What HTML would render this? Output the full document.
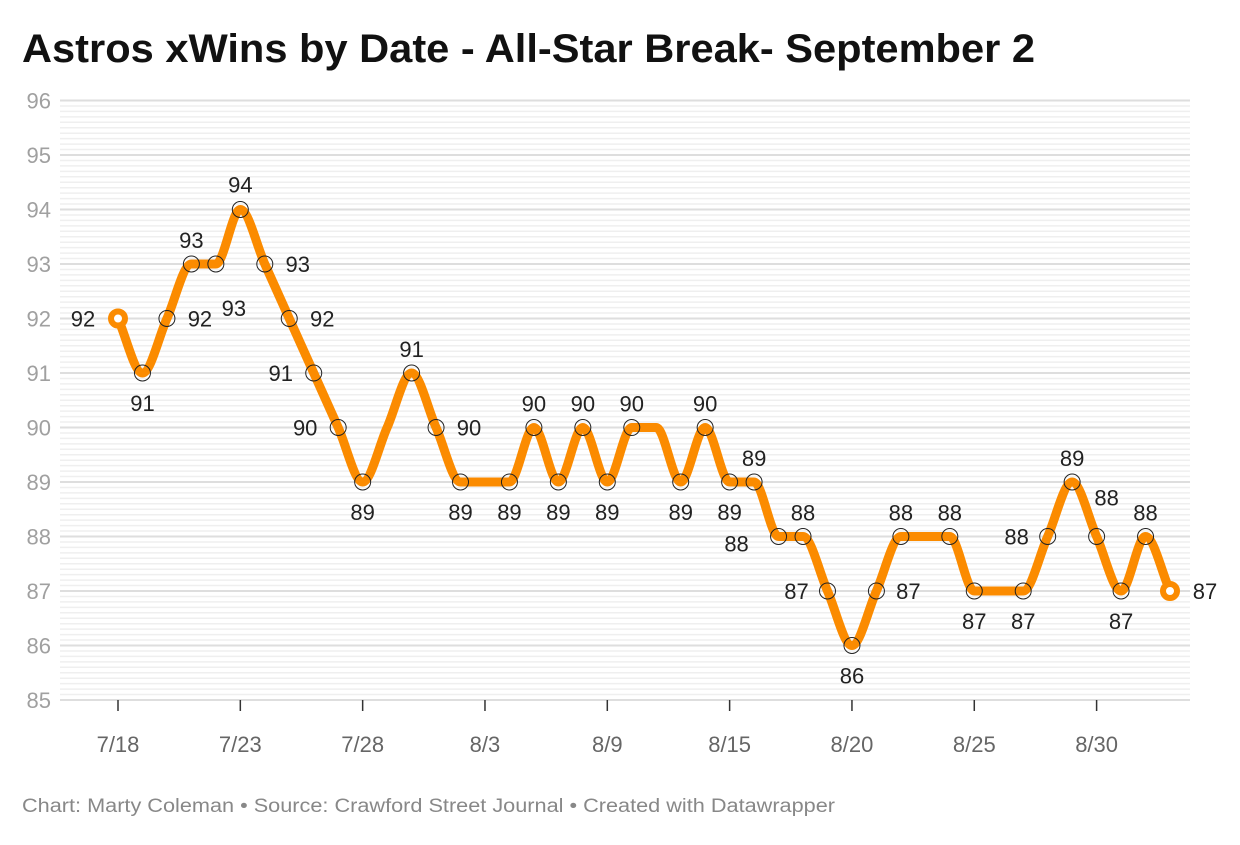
<!DOCTYPE html>
<html><head><meta charset="utf-8"><style>
body{margin:0;background:#fff;font-family:"Liberation Sans",sans-serif;}
svg text{font-family:"Liberation Sans",sans-serif;}
</style></head><body>
<svg id="c" width="1240" height="840">
<text x="22" y="62" font-size="40" font-weight="bold" fill="#111" textLength="1013" lengthAdjust="spacingAndGlyphs">Astros xWins by Date - All-Star Break- September 2</text>
<g id="grid"></g><g id="ax"></g><g id="ln"></g><g id="mk"></g>
<text x="22" y="812" font-size="19" fill="#888" textLength="813" lengthAdjust="spacingAndGlyphs">Chart: Marty Coleman • Source: Crawford Street Journal • Created with Datawrapper</text>
</svg>
<script>
const values=[92,91,92,93,93,94,93,92,91,90,89,90,91,90,89,89,89,90,89,90,89,90,90,89,90,89,89,88,88,87,86,87,88,88,88,87,87,87,88,89,88,87,88,87];
const tickIndex=[0,5,10,15,20,25,30,35,40];
const tickLabels=["7/18","7/23","7/28","8/3","8/9","8/15","8/20","8/25","8/30"];
const yTicks=[85,86,87,88,89,90,91,92,93,94,95,96];
const lab=[[-35,0],[0,30],[33,0],[0,-24],[18,44],[0,-25],[33,0],[33,0],[-33,0],[-33,0],[0,30],null,[0,-24],[33,0],[0,30],null,[0,30],[0,-24],[0,30],[0,-24],[0,30],[0,-24],null,[0,30],[0,-24],[0,30],[0,-24],[-42,7],[0,-24],[-31,0],[0,30],[32,0],[0,-24],null,[0,-24],[0,30],null,[0,30],[-31,0],[0,-24],[10,-39],[0,30],[0,-24],[35,0]];
const NS="http://www.w3.org/2000/svg";
const x=i=>118+i*(1170-118)/43;
const y=v=>700-(v-85)*54.5;
function mk(t,a,p){const e=document.createElementNS(NS,t);for(const k in a)e.setAttribute(k,a[k]);p.appendChild(e);return e;}
const grid=document.getElementById('grid'),ax=document.getElementById('ax'),ln=document.getElementById('ln'),mg=document.getElementById('mk');
for(let k=0;k<=110;k++){const v=85+k/10;if(k%10===0)continue;const l=mk('line',{x1:60,x2:1190,y1:y(v),y2:y(v),stroke:'#efefef','stroke-width':1.5},grid);

}
yTicks.forEach(v=>{const l=mk('line',{x1:60,x2:1190,y1:y(v),y2:y(v),stroke:'#dedede','stroke-width':2},grid);


const t=mk('text',{x:51,y:y(v)+8,'text-anchor':'end','font-size':22,fill:'#a0a0a0'},ax);t.textContent=v;

});
tickIndex.forEach((ix,j)=>{const l=mk('line',{x1:x(ix),x2:x(ix),y1:700,y2:711,stroke:'#333','stroke-width':1.5},ax);


const t=mk('text',{x:x(ix),y:752,'text-anchor':'middle','font-size':22,fill:'#666'},ax);t.textContent=tickLabels[j];

});
const P=values.map((v,i)=>[x(i),y(v)]);const n=P.length;const d=[],m=[];
for(let i=0;i<n-1;i++)d.push((P[i+1][1]-P[i][1])/(P[i+1][0]-P[i][0]));
for(let i=0;i<n;i++){if(i===0)m.push(d[0]);else if(i===n-1)m.push(d[n-2]);else m.push(d[i-1]*d[i]<=0?0:(d[i-1]+d[i])/2);}
for(let i=0;i<n-1;i++){if(d[i]===0){m[i]=0;m[i+1]=0;continue;}const a=m[i]/d[i],b=m[i+1]/d[i],s=a*a+b*b;if(s>9){const t=3/Math.sqrt(s);m[i]=t*a*d[i];m[i+1]=t*b*d[i];}}
let pd='M'+P[0][0]+','+P[0][1];
for(let i=0;i<n-1;i++){const h=(P[i+1][0]-P[i][0])/3;pd+=` C${P[i][0]+h},${P[i][1]+m[i]*h} ${P[i+1][0]-h},${P[i+1][1]-m[i+1]*h} ${P[i+1][0]},${P[i+1][1]}`;}
const line=mk('path',{d:pd,fill:'none',stroke:'#fb8b00','stroke-width':9,'stroke-linecap':'round','stroke-linejoin':'round'},ln);


values.forEach((v,i)=>{const L=lab[i];if(!L)return;
if(i===0||i===n-1){const c=mk('circle',{cx:x(i),cy:y(v),r:7,fill:'#fff',stroke:'#fb8b00','stroke-width':6},mg);

}
else{const c=mk('circle',{cx:x(i),cy:y(v),r:8,fill:'none',stroke:'#222','stroke-width':1},mg);

}
const t=mk('text',{x:x(i)+L[0],y:y(v)+L[1]+8,'text-anchor':'middle','font-size':22,fill:'#222'},mg);t.textContent=v;

});
</script>
</body></html>
